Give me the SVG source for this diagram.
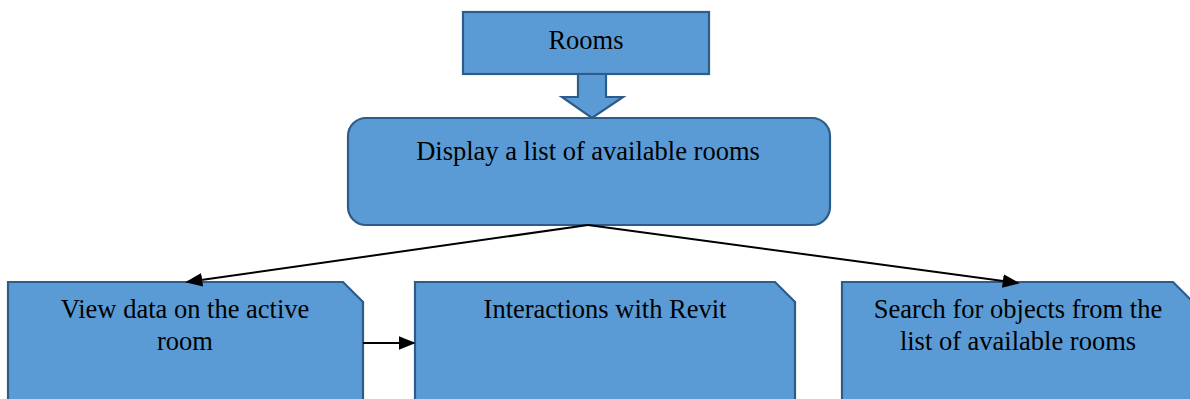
<svg xmlns="http://www.w3.org/2000/svg" width="1190" height="399" viewBox="0 0 1190 399">
<style>
.box{fill:#5B9BD5;stroke:#2E5C8A;stroke-width:2.2}
.t{font-family:"Liberation Serif","Times New Roman",serif;font-size:26.5px;fill:#000;text-anchor:middle}
.c{stroke:#000;stroke-width:2;fill:none}
</style>
<defs>
<marker id="ah2" viewBox="0 0 10 10" refX="9" refY="5" markerWidth="17" markerHeight="17" orient="auto" markerUnits="userSpaceOnUse">
<path d="M0,1 L10,5 L0,9 z" fill="#000"/>
</marker>
</defs>
<rect width="1190" height="399" fill="#fff"/>
<g id="rooms">
<rect class="box" x="463" y="12" width="246" height="62"/>
<text class="t" x="586" y="49">Rooms</text>
</g>
<g id="block-arrow">
<path class="box" d="M578,74 L606,74 L606,97 L623,97 L592,118 L562,97 L578,97 Z"/>
</g>
<g id="display">
<rect class="box" x="348" y="118" width="482" height="107" rx="18" ry="18"/>
<text class="t" x="588" y="160">Display a list of available rooms</text>
</g>
<g id="view-data">
<path class="box" d="M8,282 L343,282 L363,302 L363,402 L8,402 Z"/>
<text class="t" x="185" y="318">View data on the active</text>
<text class="t" x="185" y="350">room</text>
</g>
<g id="interactions">
<path class="box" d="M415,282 L775,282 L795,302 L795,402 L415,402 Z"/>
<text class="t" x="605" y="318">Interactions with Revit</text>
</g>
<g id="search">
<path class="box" d="M842,282 L1173,282 L1193,302 L1193,402 L842,402 Z"/>
<text class="t" x="1018" y="318">Search for objects from the</text>
<text class="t" x="1018" y="350">list of available rooms</text>
</g>
<g id="connectors">
<line class="c" x1="588" y1="225" x2="187" y2="282" marker-end="url(#ah2)"/>
<line class="c" x1="588" y1="225" x2="1018" y2="283" marker-end="url(#ah2)"/>
<line class="c" x1="363" y1="343" x2="414" y2="343" marker-end="url(#ah2)"/>
</g>
</svg>
